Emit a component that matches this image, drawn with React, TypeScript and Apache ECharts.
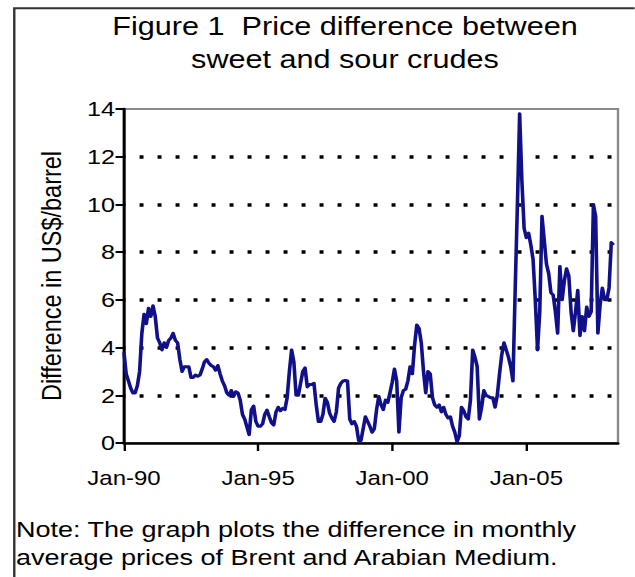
import React, { useEffect, useRef } from 'react';
import * as echarts from 'echarts';

// Monthly Brent minus Arabian Medium price difference (US$/barrel), Jan-1990 onwards
const diff1990to1994 = [
  3.8, 2.9, 2.6, 2.3, 2.1, 2.1, 2.4, 3.0, 4.6, 5.4, 5.0, 5.65,
  5.3, 5.75, 5.3, 4.4, 4.2, 3.9, 4.2, 4.0, 4.3, 4.4, 4.6, 4.3,
  4.2, 3.5, 3.0, 3.2, 3.2, 3.2, 2.75, 2.75, 2.85, 2.8, 2.85, 3.1,
  3.4, 3.5, 3.35, 3.25, 3.2, 3.05, 3.25, 2.9, 2.6, 2.4, 2.1, 2.0,
  2.2, 1.95, 2.15, 2.1, 1.8, 1.2, 1.0, 0.68, 0.35, 1.4, 1.55, 0.9,
];
const diff1995to1999 = [
  0.7, 0.7, 0.8, 1.2, 1.38, 1.1, 0.85, 0.75, 1.3, 1.5, 1.35, 1.45,
  1.4, 1.9, 3.0, 3.9, 3.4, 2.0, 2.0, 2.5, 3.0, 3.15, 2.35, 2.45,
  2.45, 2.5, 1.6, 0.9, 0.9, 1.2, 1.88, 1.7, 1.25, 1.05, 0.9, 1.3,
  2.3, 2.5, 2.6, 2.62, 2.6, 1.0, 0.8, 0.9, 0.7, 0.1, 0.1, 0.6,
  1.1, 0.9, 0.7, 0.45, 0.6, 1.4, 1.95, 1.6, 1.4, 1.8, 1.7, 2.1,
];
const diff2000to2004 = [
  2.55, 3.1, 2.6, 0.45, 1.9, 2.2, 2.25, 2.6, 3.2, 2.9, 4.1, 4.95,
  4.8, 4.2, 3.0, 2.1, 3.0, 2.9, 1.9, 1.6, 1.5, 1.6, 1.3, 1.5,
  1.2, 1.05, 1.1, 0.7, 0.45, 0.05, 0.3, 1.5, 1.35, 1.1, 1.0, 1.8,
  3.9, 3.6, 3.2, 1.0, 1.5, 2.2, 2.0, 1.95, 1.9, 1.9, 1.5, 2.0,
  2.9, 3.7, 4.2, 3.9, 3.6, 3.2, 2.6, 6.4, 10.0, 13.8, 11.0, 9.0,
];
const diff2005to2008 = [
  8.6, 8.8, 8.3, 7.7, 6.0, 3.9, 5.5, 9.5, 8.5, 7.5, 7.1, 6.3,
  6.2, 5.5, 4.6, 7.4, 6.0, 6.8, 7.3, 7.0, 5.5, 4.7, 5.5, 6.4,
  4.5, 5.3, 4.7, 5.7, 5.3, 5.5, 10.0, 9.5, 4.6, 5.8, 6.5, 6.0,
  6.0, 6.5, 8.4, 8.3,
];

// x axis: months counted from Jan-1990
const xTickMonths = [0, 60, 120, 180];
const xTickLabels = ['Jan-90', 'Jan-95', 'Jan-00', 'Jan-05'];
const xMaxMonth = 221;
const gridLevels = [2, 4, 6, 8, 10, 12];

const titleText = 'Figure 1  Price difference between\nsweet and sour crudes';
const noteText =
  'Note: The graph plots the difference in monthly\naverage prices of Brent and Arabian Medium.';
const yAxisName = 'Difference in US$/barrel';

const SX = 1.2; // the reference is horizontally stretched
const CHART_W = 529;
const CHART_H = 577;
const FONT = "'Liberation Sans', Arial, sans-serif";
const NAVY = '#10108a';

export default function App() {
  const ref = useRef<HTMLDivElement>(null);

  useEffect(() => {
    if (!ref.current) return;
    const chart = echarts.init(ref.current, null, { renderer: 'svg' });
    const values = [...diff1990to1994, ...diff1995to1999, ...diff2000to2004, ...diff2005to2008];
    const seriesData = values.map((v, i) => [i, v]);

    chart.setOption({
      animation: false,
      backgroundColor: '#ffffff',
      grid: {
        left: 103.3,
        top: 109,
        width: 411.7,
        height: 334,
        show: true,
        borderColor: '#8a8a8a',
        borderWidth: 2,
        backgroundColor: 'transparent',
      },
      xAxis: {
        type: 'value',
        min: 0,
        max: xMaxMonth,
        splitLine: { show: false },
        axisLine: { show: true, onZero: false, lineStyle: { color: '#000', width: 2.5 } },
        axisTick: {
          show: true,
          customValues: xTickMonths,
          length: 8,
          lineStyle: { color: '#000', width: 2 },
        },
        axisLabel: {
          customValues: xTickMonths,
          formatter: (v: number) => {
            const k = xTickMonths.indexOf(Math.round(v));
            return k >= 0 ? xTickLabels[k] : '';
          },
          margin: 25,
          fontSize: 20,
          fontFamily: FONT,
          color: '#000',
        },
      },
      yAxis: {
        type: 'value',
        min: 0,
        max: 14,
        interval: 2,
        name: yAxisName,
        nameLocation: 'middle',
        nameRotate: 90,
        nameGap: 49,
        nameTextStyle: { fontSize: 23.5, fontFamily: FONT, color: '#000' },
        splitLine: { show: false },
        axisLine: { show: true, lineStyle: { color: '#000', width: 2.5 } },
        axisTick: { show: true, length: 7, lineStyle: { color: '#000', width: 2 } },
        axisLabel: { margin: 7.5, fontSize: 21, fontFamily: FONT, color: '#000' },
      },
      series: [
        {
          type: 'line',
          data: seriesData,
          showSymbol: false,
          symbol: 'none',
          z: 3,
          lineStyle: { color: NAVY, width: 3, join: 'round' },
          markLine: {
            silent: true,
            symbol: ['none', 'none'],
            z: 1,
            label: { show: false },
            lineStyle: { color: '#000', width: 3.5, type: [3.3, 11.7], dashOffset: 1.7, cap: 'butt' },
            data: gridLevels.map((g) => ({ yAxis: g })),
          },
        },
      ],
      graphic: [
        {
          type: 'polyline',
          shape: { points: [[CHART_W, 8.3], [11.9, 8.3], [11.9, CHART_H]] },
          style: { stroke: '#333', lineWidth: 2, fill: 'none' },
        },
        {
          type: 'text',
          x: 287.5,
          y: 9.6,
          style: {
            text: titleText,
            fontSize: 25.5,
            fontFamily: FONT,
            fill: '#000',
            lineHeight: 33,
            align: 'center',
            verticalAlign: 'top',
            textAlign: 'center',
            textVerticalAlign: 'top',
          },
        },
        {
          type: 'text',
          x: 13.3,
          y: 515,
          style: {
            text: noteText,
            fontSize: 22.5,
            fontFamily: FONT,
            fill: '#000',
            lineHeight: 28,
            align: 'left',
            verticalAlign: 'top',
            textAlign: 'left',
            textVerticalAlign: 'top',
          },
        },
      ],
    });

    return () => chart.dispose();
  }, []);

  return (
    <div
      ref={ref}
      style={{
        position: 'fixed',
        left: 0,
        top: 0,
        width: CHART_W,
        height: CHART_H,
        transform: `scaleX(${SX})`,
        transformOrigin: '0 0',
        background: '#fff',
      }}
    />
  );
}
